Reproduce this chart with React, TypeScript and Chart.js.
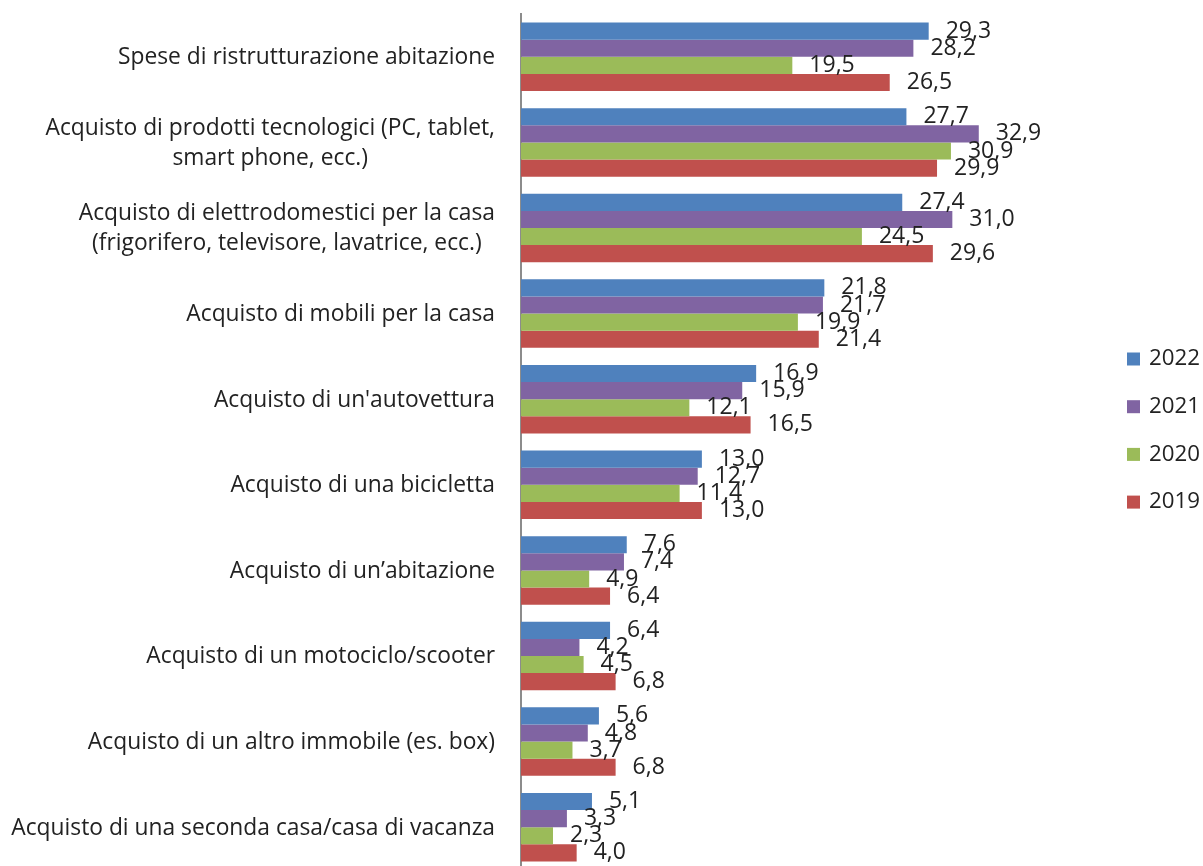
import React, { useEffect, useRef } from "react";
import { Chart, registerables } from "chart.js";

Chart.register(...registerables);

// Category labels, one entry per line
const categories: string[][] = [
  ["Spese di ristrutturazione abitazione"],
  ["Acquisto di prodotti tecnologici (PC, tablet,", "smart phone, ecc.)"],
  ["Acquisto di elettrodomestici per la casa", "(frigorifero, televisore, lavatrice, ecc.)"],
  ["Acquisto di mobili per la casa"],
  ["Acquisto di un'autovettura"],
  ["Acquisto di una bicicletta"],
  ["Acquisto di un\u2019abitazione"],
  ["Acquisto di un motociclo/scooter"],
  ["Acquisto di un altro immobile (es. box)"],
  ["Acquisto di una seconda casa/casa di vacanza"],
];

const values2022 = [29.3, 27.7, 27.4, 21.8, 16.9, 13.0, 7.6, 6.4, 5.6, 5.1];
const values2021 = [28.2, 32.9, 31.0, 21.7, 15.9, 12.7, 7.4, 4.2, 4.8, 3.3];
const values2020 = [19.5, 30.9, 24.5, 19.9, 12.1, 11.4, 4.9, 4.5, 3.7, 2.3];
const values2019 = [26.5, 29.9, 29.6, 21.4, 16.5, 13.0, 6.4, 6.8, 6.8, 4.0];

const seriesLabels = ["2022", "2021", "2020", "2019"];
const seriesColors = ["#4F81BD", "#8064A2", "#9BBB59", "#C0504D"];

const TEXT_COLOR = "#222222";
const FONT = "'Open Sans', 'DejaVu Sans', sans-serif";

const fmt = (v: number) => v.toFixed(1).replace(".", ",");

// Draws the category names to the left of the axis: block right-aligned, lines centred within it
const categoryLabelsPlugin = {
  id: "categoryLabels",
  afterDraw(chart: any) {
    const ctx = chart.ctx;
    const yScale = chart.scales.y;
    const right = chart.chartArea.left - 26;
    const lineHeight = 30;
    ctx.save();
    ctx.font = `22.8px ${FONT}`;
    ctx.fillStyle = TEXT_COLOR;
    ctx.textBaseline = "middle";
    ctx.textAlign = "center";
    categories.forEach((lines, i) => {
      const cy = yScale.getPixelForValue(i) + 1;
      const maxW = Math.max(...lines.map((l) => ctx.measureText(l).width));
      const cx = right - maxW / 2;
      const y0 = cy - ((lines.length - 1) * lineHeight) / 2;
      lines.forEach((l, k) => ctx.fillText(l, cx, y0 + k * lineHeight));
    });
    ctx.restore();
  },
};

// Value labels just past the end of each bar
const valueLabelsPlugin = {
  id: "valueLabels",
  afterDatasetsDraw(chart: any) {
    const ctx = chart.ctx;
    ctx.save();
    ctx.font = `23px ${FONT}`;
    ctx.fillStyle = TEXT_COLOR;
    ctx.textBaseline = "middle";
    ctx.textAlign = "left";
    chart.data.datasets.forEach((ds: any, di: number) => {
      const meta = chart.getDatasetMeta(di);
      meta.data.forEach((bar: any, i: number) => {
        ctx.fillText(fmt(ds.data[i]), bar.x + 17, bar.y);
      });
    });
    ctx.restore();
  },
};

// Legend on the right, stacked vertically
const sideLegendPlugin = {
  id: "sideLegend",
  afterDraw(chart: any) {
    const ctx = chart.ctx;
    const x = 1127;
    const box = 13;
    const step = 47.7;
    const firstY = 359;
    ctx.save();
    ctx.font = `22.3px ${FONT}`;
    ctx.textBaseline = "middle";
    ctx.textAlign = "left";
    chart.data.datasets.forEach((ds: any, i: number) => {
      const cy = firstY + i * step;
      ctx.fillStyle = ds.backgroundColor;
      ctx.fillRect(x, cy - box / 2, box, box);
      ctx.fillStyle = TEXT_COLOR;
      ctx.fillText(ds.label, x + 22, cy);
    });
    ctx.restore();
  },
};

export default function App() {
  const canvasRef = useRef<HTMLCanvasElement>(null);

  useEffect(() => {
    if (!canvasRef.current) return;
    const seriesValues = [values2022, values2021, values2020, values2019];
    const chart = new Chart(canvasRef.current, {
      type: "bar",
      data: {
        labels: categories.map((c) => c.join(" ")),
        datasets: seriesLabels.map((label, i) => ({
          label,
          data: seriesValues[i],
          backgroundColor: seriesColors[i],
          borderWidth: 0,
          categoryPercentage: 0.8,
          barPercentage: 1.0,
        })),
      },
      options: {
        indexAxis: "y",
        responsive: false,
        animation: false,
        devicePixelRatio: 1,
        layout: { padding: { left: 0, right: 195, top: 14, bottom: 12 } },
        plugins: {
          legend: { display: false },
          tooltip: { enabled: false },
        },
        scales: {
          x: {
            display: false,
            min: 0,
            max: 35,
          },
          y: {
            grid: { display: false },
            ticks: { display: false },
            border: { display: true, color: "#8c8c8c", width: 2 },
            afterFit: (scale: any) => {
              scale.width = 521;
            },
          },
        },
      },
      plugins: [categoryLabelsPlugin, valueLabelsPlugin, sideLegendPlugin],
    } as any);
    return () => chart.destroy();
  }, []);

  return (
    <div
      style={{
        position: "absolute",
        left: 0,
        top: 0,
        width: 1203,
        height: 866,
        overflow: "hidden",
        background: "#ffffff",
      }}
    >
      <canvas ref={canvasRef} width={1203} height={882} />
    </div>
  );
}
